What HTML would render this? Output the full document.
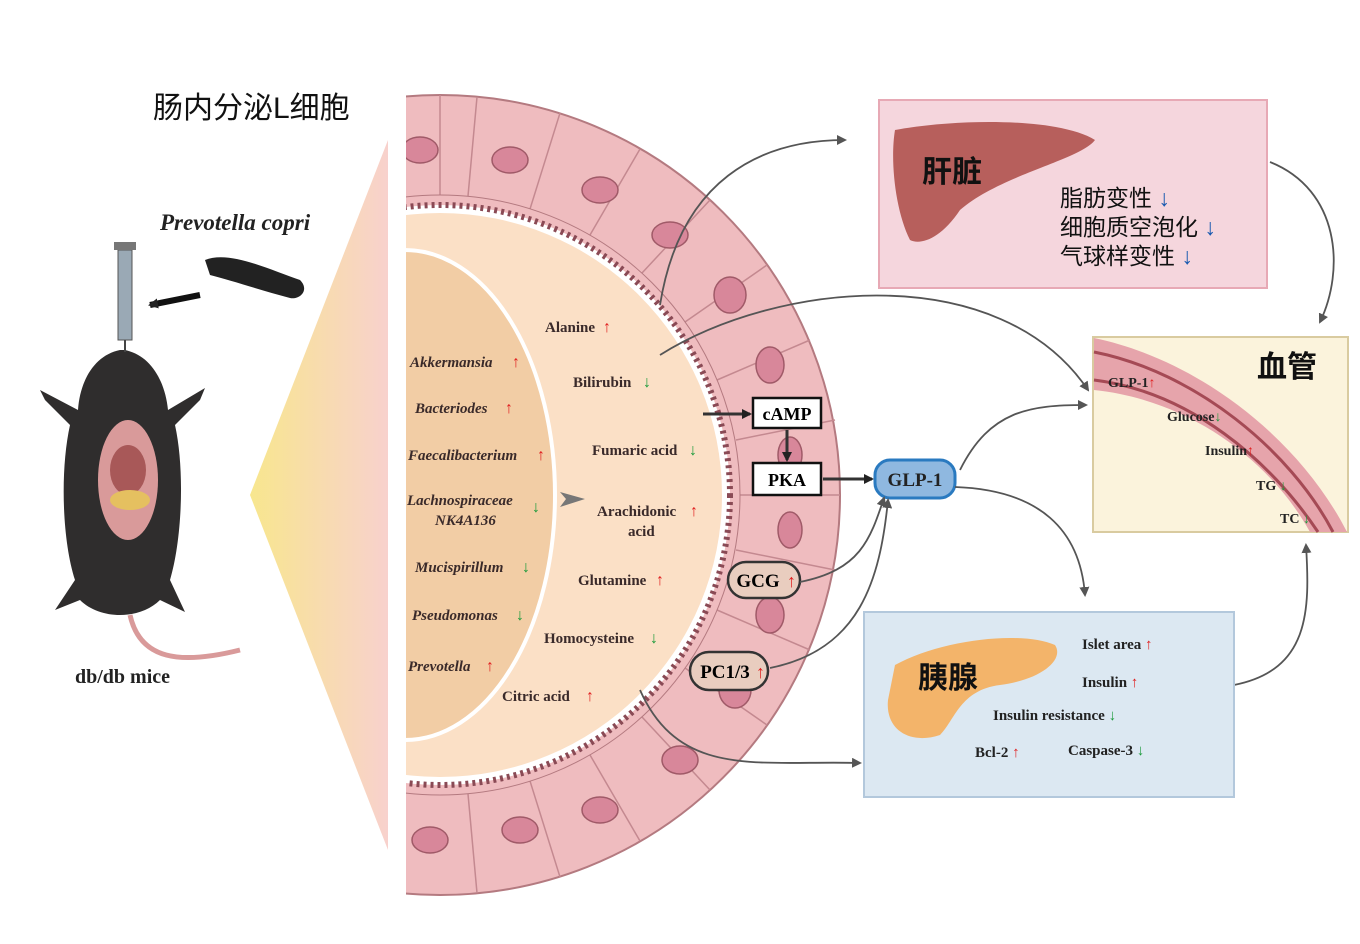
<!DOCTYPE html>
<html><head><meta charset="utf-8">
<style>
html,body{margin:0;padding:0;background:#fff;}
svg{display:block;}
.s{font-family:"Liberation Serif",serif;font-weight:bold;}
.c{font-family:"Liberation Sans","Noto Sans CJK SC",sans-serif;}
</style></head><body>
<svg width="1360" height="944" viewBox="0 0 1360 944" xmlns="http://www.w3.org/2000/svg">
<defs>
<linearGradient id="tri" x1="0" y1="0" x2="1" y2="0">
<stop offset="0" stop-color="#f6e27a"/><stop offset="1" stop-color="#f7c9c4"/>
</linearGradient>
<marker id="ar" markerWidth="10" markerHeight="10" refX="8" refY="5" orient="auto" markerUnits="userSpaceOnUse">
<path d="M0,0 L10,5 L0,10 z" fill="#555"/></marker>
<marker id="ak" markerWidth="10" markerHeight="10" refX="8" refY="5" orient="auto" markerUnits="userSpaceOnUse">
<path d="M0,0 L10,5 L0,10 z" fill="#222"/></marker>
<clipPath id="half"><rect x="405" y="0" width="600" height="944"/></clipPath>
</defs>

<text x="153" y="118" class="c" font-size="30" fill="#111">肠内分泌L细胞</text>

<polygon points="388,140 388,850 250,495" fill="url(#tri)" opacity="0.85"/>

<g>
<path d="M120,350 C95,355 80,380 78,410 L40,390 L45,400 L70,425 C60,470 62,540 75,580 L55,610 L80,600 C100,620 140,620 160,600 L185,612 L170,580 C182,540 185,470 175,425 L200,400 L205,388 L168,410 C165,380 150,355 125,350 Z" fill="#2f2d2d"/>
<ellipse cx="128" cy="480" rx="30" ry="60" fill="#d99a9a"/>
<ellipse cx="128" cy="470" rx="18" ry="25" fill="#a85858"/>
<ellipse cx="130" cy="500" rx="20" ry="10" fill="#e5c060"/>
<path d="M130,615 C140,660 180,665 240,650" stroke="#d99a9a" stroke-width="5" fill="none"/>
<rect x="118" y="250" width="14" height="90" fill="#9aa9b5" stroke="#555"/>
<rect x="114" y="242" width="22" height="8" fill="#777"/>
<line x1="125" y1="340" x2="125" y2="352" stroke="#444" stroke-width="2"/>
<path d="M205,260 C230,250 270,270 300,280 C310,290 300,300 290,298 C260,290 230,280 210,275 Z" fill="#222"/>
<path d="M200,295 L150,305" stroke="#111" stroke-width="6" marker-end="url(#ak)"/>
</g>
<text x="160" y="230" class="s" font-style="italic" font-size="23" fill="#222">Prevotella copri</text>
<text x="75" y="683" class="s" font-size="20" fill="#222">db/db mice</text>

<g clip-path="url(#half)">
<circle cx="440" cy="495" r="400" fill="#efbcbf" stroke="#b47a80" stroke-width="2"/>
<g stroke="#c48990" stroke-width="1.5">
<line x1="440" y1="95" x2="440" y2="195"/>
<line x1="477" y1="97" x2="468" y2="196"/>
<line x1="560" y1="113" x2="530" y2="209"/>
<line x1="640" y1="149" x2="590" y2="235"/>
<line x1="710" y1="200" x2="642" y2="273"/>
<line x1="767" y1="265" x2="685" y2="322"/>
<line x1="810" y1="340" x2="717" y2="380"/>
<line x1="835" y1="420" x2="736" y2="440"/>
<line x1="840" y1="495" x2="740" y2="495"/>
<line x1="835" y1="570" x2="736" y2="550"/>
<line x1="810" y1="650" x2="717" y2="610"/>
<line x1="767" y1="725" x2="685" y2="668"/>
<line x1="710" y1="790" x2="642" y2="717"/>
<line x1="640" y1="841" x2="590" y2="755"/>
<line x1="560" y1="877" x2="530" y2="781"/>
<line x1="477" y1="893" x2="468" y2="794"/>
</g>
<circle cx="440" cy="495" r="300" fill="none" stroke="#b47a80" stroke-width="1"/>
<circle cx="440" cy="495" r="290" fill="#fff" stroke="#8a4a55" stroke-width="6" stroke-dasharray="3 4"/>
<circle cx="440" cy="495" r="282" fill="#fbe0c6"/>
<ellipse cx="405" cy="495" rx="150" ry="245" fill="#f2cda5" stroke="#fff" stroke-width="4"/>
</g>
<g fill="#d8879a" stroke="#a05a68" stroke-width="1.5">
<ellipse cx="420" cy="150" rx="18" ry="13"/><ellipse cx="510" cy="160" rx="18" ry="13"/>
<ellipse cx="600" cy="190" rx="18" ry="13"/><ellipse cx="670" cy="235" rx="18" ry="13"/>
<ellipse cx="730" cy="295" rx="16" ry="18"/><ellipse cx="770" cy="365" rx="14" ry="18"/>
<ellipse cx="790" cy="455" rx="12" ry="18"/><ellipse cx="790" cy="530" rx="12" ry="18"/>
<ellipse cx="770" cy="615" rx="14" ry="18"/><ellipse cx="735" cy="690" rx="16" ry="18"/>
<ellipse cx="680" cy="760" rx="18" ry="14"/><ellipse cx="600" cy="810" rx="18" ry="13"/>
<ellipse cx="520" cy="830" rx="18" ry="13"/><ellipse cx="430" cy="840" rx="18" ry="13"/>
</g>
<rect x="388" y="95" width="18" height="800" fill="#fff"/>

<g class="s" font-style="italic" font-size="15" fill="#3a2a2a">
<text x="410" y="367">Akkermansia</text><text x="415" y="413">Bacteriodes</text>
<text x="408" y="460">Faecalibacterium</text><text x="407" y="505">Lachnospiraceae</text>
<text x="435" y="525">NK4A136</text><text x="415" y="572">Mucispirillum</text>
<text x="412" y="620">Pseudomonas</text><text x="408" y="671">Prevotella</text>
</g>
<g font-size="16" font-weight="bold" font-family="Liberation Sans,sans-serif">
<text x="512" y="367" fill="#e02020">↑</text><text x="505" y="413" fill="#e02020">↑</text>
<text x="537" y="460" fill="#e02020">↑</text><text x="532" y="512" fill="#1a9a3a">↓</text>
<text x="522" y="572" fill="#1a9a3a">↓</text><text x="516" y="620" fill="#1a9a3a">↓</text>
<text x="486" y="671" fill="#e02020">↑</text>
</g>
<path d="M560,492 L585,499 L560,507 L566,499 Z" fill="#777"/>
<g class="s" font-size="15" fill="#3a2a2a">
<text x="545" y="332">Alanine</text><text x="573" y="387">Bilirubin</text>
<text x="592" y="455">Fumaric acid</text><text x="597" y="516">Arachidonic</text>
<text x="628" y="536">acid</text><text x="578" y="585">Glutamine</text>
<text x="544" y="643">Homocysteine</text><text x="502" y="701">Citric acid</text>
</g>
<g font-size="16" font-weight="bold" font-family="Liberation Sans,sans-serif">
<text x="603" y="332" fill="#e02020">↑</text><text x="643" y="387" fill="#1a9a3a">↓</text>
<text x="689" y="455" fill="#1a9a3a">↓</text><text x="690" y="516" fill="#e02020">↑</text>
<text x="656" y="585" fill="#e02020">↑</text><text x="650" y="643" fill="#1a9a3a">↓</text>
<text x="586" y="701" fill="#e02020">↑</text>
</g>

<line x1="703" y1="414" x2="750" y2="414" stroke="#333" stroke-width="3" marker-end="url(#ak)"/>
<rect x="753" y="398" width="68" height="30" fill="#fff" stroke="#111" stroke-width="2.5"/>
<text x="787" y="420" text-anchor="middle" class="s" font-size="18">cAMP</text>
<line x1="787" y1="430" x2="787" y2="460" stroke="#333" stroke-width="3" marker-end="url(#ak)"/>
<rect x="753" y="463" width="68" height="32" fill="#fff" stroke="#111" stroke-width="2.5"/>
<text x="787" y="486" text-anchor="middle" class="s" font-size="18">PKA</text>
<line x1="823" y1="479" x2="872" y2="479" stroke="#333" stroke-width="3" marker-end="url(#ak)"/>
<rect x="875" y="460" width="80" height="38" rx="15" fill="#8fb8e0" stroke="#2a7ac0" stroke-width="3"/>
<text x="915" y="486" text-anchor="middle" class="s" font-size="19" fill="#222">GLP-1</text>
<rect x="728" y="562" width="72" height="36" rx="18" fill="#e9cdbf" stroke="#333" stroke-width="2.5"/>
<text x="758" y="587" text-anchor="middle" class="s" font-size="19">GCG</text>
<text x="787" y="587" font-size="18" font-weight="bold" fill="#e02020">↑</text>
<rect x="690" y="652" width="78" height="38" rx="19" fill="#e9cdbf" stroke="#333" stroke-width="2.5"/>
<text x="725" y="678" text-anchor="middle" class="s" font-size="19">PC1/3</text>
<text x="756" y="678" font-size="18" font-weight="bold" fill="#e02020">↑</text>

<g fill="none" stroke="#555" stroke-width="1.8" marker-end="url(#ar)">
<path d="M660,305 C680,180 760,140 845,140"/>
<path d="M660,355 C780,280 1000,260 1088,390"/>
<path d="M960,470 C990,410 1030,405 1086,405"/>
<path d="M955,487 C1040,490 1080,530 1085,595"/>
<path d="M800,582 C860,570 870,540 884,498"/>
<path d="M770,668 C860,650 880,580 888,500"/>
<path d="M640,690 C680,780 760,760 860,763"/>
<path d="M1270,162 C1340,190 1345,270 1320,322"/>
<path d="M1234,685 C1310,670 1310,610 1306,545"/>
</g>

<rect x="879" y="100" width="388" height="188" fill="#f5d6dd" stroke="#e7a9b5" stroke-width="2"/>
<path d="M895,130 C960,118 1060,118 1095,140 C1080,160 1000,175 960,210 C940,240 920,245 910,240 C895,210 890,160 895,130 Z" fill="#b75f5c"/>
<text x="922" y="182" class="c" font-size="30" font-weight="bold" fill="#111">肝脏</text>
<g class="c" font-size="23" fill="#111">
<text x="1060" y="206">脂肪变性 <tspan fill="#1a5ab0">↓</tspan></text>
<text x="1060" y="235">细胞质空泡化 <tspan fill="#1a5ab0">↓</tspan></text>
<text x="1060" y="264">气球样变性 <tspan fill="#1a5ab0">↓</tspan></text>
</g>

<rect x="1093" y="337" width="255" height="195" fill="#fbf3dc" stroke="#d9cba0" stroke-width="2"/>
<path d="M1094,338 C1200,360 1300,440 1347,532 L1310,532 C1270,460 1190,400 1094,390 Z" fill="#e6a4ab"/>
<path d="M1094,352 C1195,372 1290,450 1333,532" fill="none" stroke="#a54a55" stroke-width="3"/>
<path d="M1094,380 C1190,392 1270,460 1318,532" fill="none" stroke="#a54a55" stroke-width="3"/>
<text x="1257" y="377" class="c" font-size="30" font-weight="bold" fill="#111">血管</text>
<g class="s" font-size="14" fill="#222">
<text x="1108" y="387">GLP-1<tspan fill="#e02020">↑</tspan></text>
<text x="1167" y="421">Glucose<tspan fill="#1a9a3a">↓</tspan></text>
<text x="1205" y="455">Insulin<tspan fill="#e02020">↑</tspan></text>
<text x="1256" y="490">TG <tspan fill="#1a9a3a">↓</tspan></text>
<text x="1280" y="523">TC <tspan fill="#1a9a3a">↓</tspan></text>
</g>

<rect x="864" y="612" width="370" height="185" fill="#dce8f2" stroke="#b3c8dc" stroke-width="2"/>
<path d="M895,665 C940,640 1020,630 1055,645 C1065,660 1040,680 1000,685 C960,690 955,720 940,735 C910,745 885,730 888,700 Z" fill="#f3b46a"/>
<text x="918" y="688" class="c" font-size="30" font-weight="bold" fill="#111">胰腺</text>
<g class="s" font-size="15" fill="#222">
<text x="1082" y="649">Islet area <tspan fill="#e02020">↑</tspan></text>
<text x="1082" y="687">Insulin <tspan fill="#e02020">↑</tspan></text>
<text x="993" y="720">Insulin resistance <tspan fill="#1a9a3a">↓</tspan></text>
<text x="975" y="757">Bcl-2 <tspan fill="#e02020">↑</tspan></text>
<text x="1068" y="755">Caspase-3 <tspan fill="#1a9a3a">↓</tspan></text>
</g>
</svg>
</body></html>
